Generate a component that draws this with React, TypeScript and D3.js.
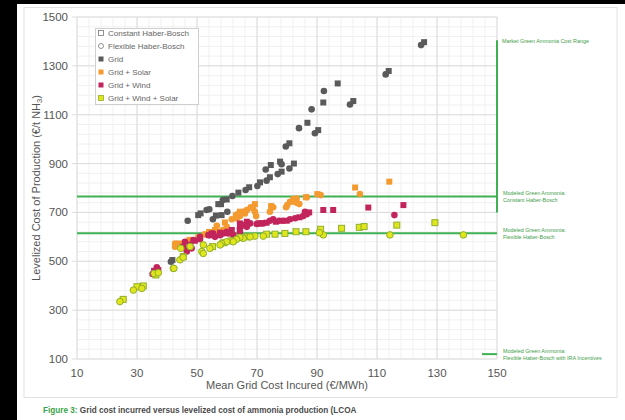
import React from "react";
import * as d3 from "d3";

type P = [number, number];

const xTicks = [10, 30, 50, 70, 90, 110, 130, 150];
const yTicks = [100, 300, 500, 700, 900, 1100, 1300, 1500];

const gridConstant: P[] = [[41.8,505],[50.4,689],[51.2,696],[56.3,687],[57.1,734],[58,734],[58.2,689],[59.9,753],[63.8,781],[67.4,803],[71,823],[74.3,844],[74.6,894],[77.7,908],[78.2,867],[80.8,983],[82.3,900],[86.8,1067],[90.4,1037],[92.1,1150],[96.9,1228],[102.1,1156],[113.9,1279],[125.7,1397]];
const gridFlexible: P[] = [[41.3,498],[46.9,666],[53.2,710],[54.1,713],[55.3,672],[58.6,751],[60.1,703],[61.8,767],[66.2,792],[70.1,808],[72.9,876],[73.2,830],[76.9,857],[78.2,897],[79.6,970],[80.8,880],[84,1045],[88.2,1122],[89.3,1024],[92.3,1197],[101,1142],[112.9,1265],[124.7,1385]];

const solarConstant: P[] = [[114.1,826],[102.7,802],[90.1,775],[86.3,762],[82.3,744],[74.7,726],[69.3,734],[64.3,703],[59.3,659],[56,628],[50.4,598],[44.1,573],[63.8,693],[47.5,588],[54,620]];
const solarFlexible: P[] = [[104.3,775],[91.2,771],[86.6,762],[82.1,755],[83.2,757],[81,744],[80.1,730],[79.7,721],[83.2,740],[84.1,734],[75.4,721],[74.3,703],[68.6,717],[69.3,703],[69.7,685],[65.4,703],[66,696],[67.9,721],[66.6,710],[63,689],[61.6,672],[56.6,645],[64.3,685],[63.2,676],[59.9,641],[58.6,628],[57.7,621],[56.6,614],[42.7,573],[42.7,560],[45.4,562],[52.5,610]];

const windConstant: P[] = [[92.1,710],[95.4,710],[107.1,720],[118.8,730],[87.4,700],[84.1,680],[79.9,666],[76.3,662],[73.2,658],[70.8,655],[66.6,662],[64.3,655],[61.6,628],[57.7,617],[54.9,614],[49.3,584],[45.4,560],[35.7,461],[37.1,464]];
const windFlexible: P[] = [[115.8,689],[86.6,693],[85.4,685],[82.7,676],[81,672],[78.6,666],[77.4,666],[75.4,672],[74.3,666],[72.1,655],[69.9,653],[67.7,655],[65.4,648],[64.3,635],[59.9,621],[58.8,614],[55.4,614],[54.3,607],[51,590],[53.8,607],[56,600],[57.7,607],[60.4,614],[62.1,607],[64.3,621],[66.6,641],[46.6,549],[47.7,567],[36.6,453],[35.2,448],[36.6,475],[46.6,540],[48.2,553],[46,580],[48.8,587],[51,600],[86,703],[71,655]];

const wsConstant: P[] = [[98.2,635],[104.1,639],[105.7,642],[116.6,648],[129.3,658],[91.2,631],[86.3,621],[83,621],[79.3,614],[76,611],[73.2,611],[66.6,600],[61.6,584],[55.2,560],[45.4,519],[36.3,444],[32.1,399],[25.4,344],[30,396],[59,576]];
const wsFlexible: P[] = [[114.3,608],[138.8,608],[92.1,608],[90.8,617],[72.1,603],[69.3,603],[67.7,600],[65.4,594],[64.3,598],[63.2,590],[59.9,580],[58.2,573],[57.7,567],[54.3,553],[51.6,540],[52.1,567],[47.7,560],[44.3,506],[42.1,471],[35.7,450],[28.8,382],[31.6,389],[24.3,335],[37.1,453],[42.3,471],[45.4,516],[44.6,553],[52.1,532],[62.1,580]];

const constantHB = 765;
const flexibleHB = 615;
const iraHB = 120;
const marketRange: P = [700, 1405];

const legendLabels = ["Constant Haber-Bosch", "Flexible Haber-Bosch", "Grid", "Grid + Solar", "Grid + Wind", "Grid + Wind + Solar"];

const GREEN = "#3fb153";
const GREEN_TEXT = "#3f9d4c";
const FONT = "'Liberation Sans', Arial, sans-serif";

const series = [
  { c: gridConstant, f: gridFlexible, fill: "#5a5a5a", stroke: "none" },
  { c: solarConstant, f: solarFlexible, fill: "#f39a30", stroke: "none" },
  { c: windConstant, f: windFlexible, fill: "#c2245c", stroke: "none" },
  { c: wsConstant, f: wsFlexible, fill: "#e0e51c", stroke: "#8fb02c" },
];

export default function App() {
  const x = d3.scaleLinear().domain([10, 150]).range([77, 497]);
  const y = d3.scaleLinear().domain([100, 1500]).range([359, 17]);
  const minorX = d3.range(10, 150.01, 4);
  const minorY = d3.range(100, 1500.01, 40);

  return (
    <div style={{ position: "fixed", left: 0, top: 0 }}>
      <svg width={625} height={420} style={{ display: "block", fontFamily: FONT }}>
        <rect x={0} y={0} width={625} height={420} fill="#ffffff" />
        <rect x={0} y={0} width={625} height={4} fill="#000" />
        <rect x={0} y={0} width={17} height={420} fill="#000" />
        <rect x={24} y={7.5} width={593} height={390} fill="#fff" stroke="#e2e2e2" />

        {minorX.map((v) => (
          <line key={"mx" + v} x1={x(v)} x2={x(v)} y1={y(100)} y2={y(1500)} stroke="#f0f0f0" strokeWidth={1} />
        ))}
        {minorY.map((v) => (
          <line key={"my" + v} x1={x(10)} x2={x(150)} y1={y(v)} y2={y(v)} stroke="#f0f0f0" strokeWidth={1} />
        ))}
        {xTicks.map((v) => (
          <line key={"gx" + v} x1={x(v)} x2={x(v)} y1={y(100)} y2={y(1500)} stroke="#dcdcdc" strokeWidth={1} />
        ))}
        {yTicks.map((v) => (
          <line key={"gy" + v} x1={x(10) - 5} x2={x(150)} y1={y(v)} y2={y(v)} stroke="#dcdcdc" strokeWidth={1} />
        ))}

        {yTicks.map((v) => (
          <text key={"ty" + v} x={68} y={y(v) + 4} textAnchor="end" fontSize={11.5} fill="#555">{v}</text>
        ))}
        {xTicks.map((v) => (
          <text key={"tx" + v} x={x(v)} y={377} textAnchor="middle" fontSize={11.5} fill="#555">{v}</text>
        ))}
        <text x={287} y={389} textAnchor="middle" fontSize={11} fill="#555">Mean Grid Cost Incured (€/MWh)</text>
        <text transform={`translate(40,188) rotate(-90)`} textAnchor="middle" fontSize={11} fill="#555">
          Levelized Cost of Production (€/t NH<tspan fontSize={7.5} dy={2}>3</tspan><tspan dy={-2}>)</tspan>
        </text>

        <line x1={x(10)} x2={x(150)} y1={y(constantHB)} y2={y(constantHB)} stroke={GREEN} strokeWidth={2} />
        <line x1={x(10)} x2={x(150)} y1={y(flexibleHB)} y2={y(flexibleHB)} stroke={GREEN} strokeWidth={2} />
        <line x1={x(150)} x2={x(150)} y1={y(marketRange[0])} y2={y(marketRange[1])} stroke={GREEN} strokeWidth={2} />
        <line x1={x(145)} x2={x(150)} y1={y(iraHB)} y2={y(iraHB)} stroke={GREEN} strokeWidth={2} />

        <g fontSize={5.4} fill={GREEN_TEXT}>
          <text x={502} y={y(marketRange[1]) + 3}>Market Green Ammonia Cost Range</text>
          <text x={503} y={y(constantHB) - 2}>Modeled Green Ammonia:</text>
          <text x={503} y={y(constantHB) + 5}>Constant Haber-Bosch</text>
          <text x={503} y={y(flexibleHB) - 1}>Modeled Green Ammonia:</text>
          <text x={503} y={y(flexibleHB) + 6}>Flexible Haber-Bosch</text>
          <text x={503} y={y(iraHB) - 1}>Modeled Green Ammonia:</text>
          <text x={503} y={y(iraHB) + 6}>Flexible Haber-Bosch with IRA Incentives</text>
        </g>

        {series.map((s, i) => (
          <g key={"s" + i}>
            {s.c.map((p, j) => (
              <rect key={"c" + j} x={x(p[0]) - 3} y={y(p[1]) - 3} width={6} height={6} fill={s.fill} stroke={s.stroke} strokeWidth={1} />
            ))}
            {s.f.map((p, j) => (
              <circle key={"f" + j} cx={x(p[0])} cy={y(p[1])} r={3.3} fill={s.fill} stroke={s.stroke} strokeWidth={1} />
            ))}
          </g>
        ))}

        <rect x={95.5} y={28.5} width={103} height={76} fill="#fff" stroke="#cfcfcf" />
        {legendLabels.map((l, i) => {
          const ly = 33 + i * 13;
          let marker;
          if (i === 0) marker = <rect x={98.5} y={ly - 2.5} width={5} height={5} fill="#fff" stroke="#777" strokeWidth={0.8} />;
          else if (i === 1) marker = <circle cx={101} cy={ly} r={2.5} fill="#fff" stroke="#777" strokeWidth={0.8} />;
          else {
            const s = series[i - 2];
            marker = <rect x={98.5} y={ly - 2.5} width={5} height={5} fill={s.fill} stroke={s.stroke} strokeWidth={0.8} />;
          }
          return (
            <g key={"lg" + i}>
              {marker}
              <text x={108} y={ly + 3} fontSize={8} fill="#666">{l}</text>
            </g>
          );
        })}

        <text x={43} y={413} fontSize={8.2} fontWeight="bold" fill="#4a4a4a">
          <tspan fill="#3aa54a">Figure 3:</tspan> Grid cost incurred versus levelized cost of ammonia production (LCOA
        </text>
      </svg>
    </div>
  );
}
